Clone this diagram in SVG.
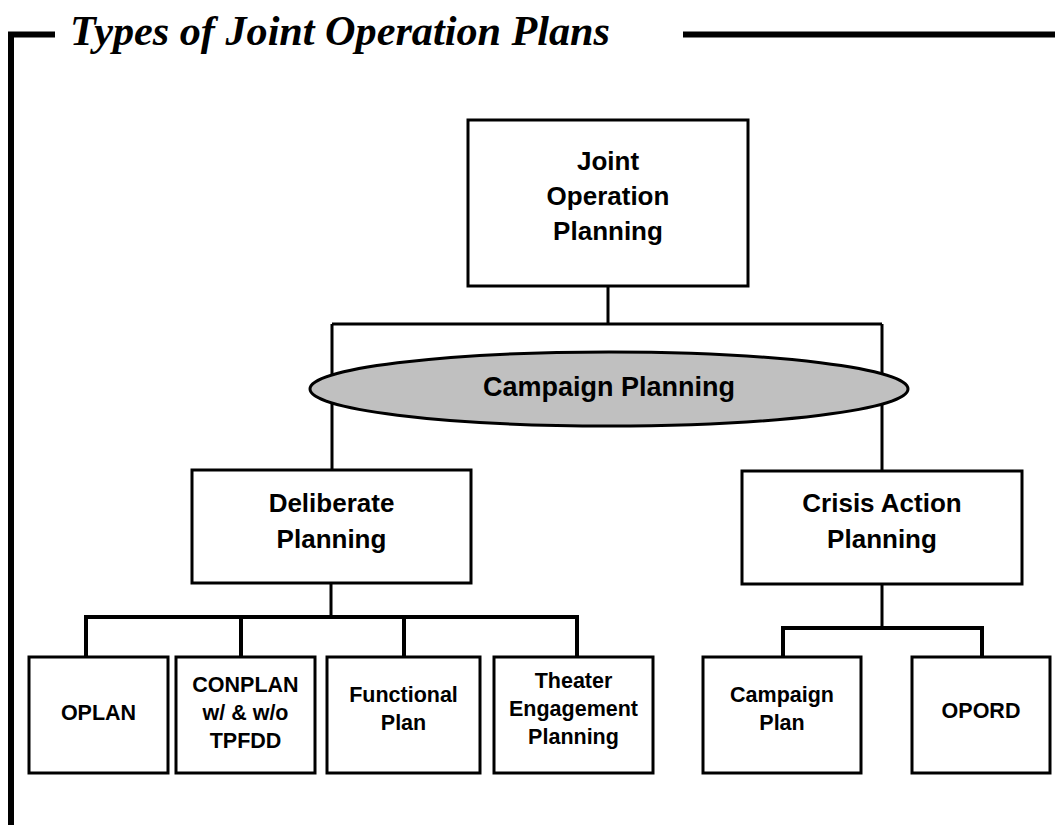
<svg xmlns="http://www.w3.org/2000/svg" width="1055" height="825" viewBox="0 0 1055 825">
<style>
.box{fill:#fff;stroke:#000;stroke-width:3}
.t{font-family:"Liberation Sans",Arial,sans-serif;font-weight:bold;fill:#000;text-anchor:middle}
.big{font-size:26px}
.small{font-size:21.5px}
.c{fill:none;stroke:#000;stroke-width:3}
.c4{fill:none;stroke:#000;stroke-width:4}
</style>
<rect width="1055" height="825" fill="#fff"/>
<g id="frame">
<path d="M11 825 V34.5 H55" fill="none" stroke="#000" stroke-width="6"/>
<path d="M683 34.5 H1055" fill="none" stroke="#000" stroke-width="6"/>
<text x="70" y="45" font-family="'Liberation Serif','Times New Roman',serif" font-weight="bold" font-style="italic" font-size="43" textLength="540" lengthAdjust="spacingAndGlyphs">Types of Joint Operation Plans</text>
</g>
<g id="connectors">
<path class="c" d="M608 286 V324 M332 324 H882 M332 324 V470 M882 324 V471"/>
<path class="c" d="M331 583 V617 M882 584 V628"/>
<path class="c4" d="M86 657 V617 H577 V657 M241 617 V657 M404 617 V657"/>
<path class="c4" d="M783 657 V628 H982 V657"/>
</g>
<g id="jop">
<rect class="box" x="468" y="120" width="280" height="166"/>
<text class="t big" x="608" y="170">Joint</text>
<text class="t big" x="608" y="205">Operation</text>
<text class="t big" x="608" y="240">Planning</text>
</g>
<g id="campaign-planning">
<ellipse cx="609" cy="389" rx="299" ry="37" fill="#c0c0c0" stroke="#000" stroke-width="3"/>
<text class="t" x="609" y="396" font-size="27">Campaign Planning</text>
</g>
<g id="deliberate">
<rect class="box" x="192" y="470" width="279" height="113"/>
<text class="t big" x="331.5" y="512">Deliberate</text>
<text class="t big" x="331.5" y="548">Planning</text>
</g>
<g id="crisis">
<rect class="box" x="742" y="471" width="280" height="113"/>
<text class="t big" x="882" y="512">Crisis Action</text>
<text class="t big" x="882" y="548">Planning</text>
</g>
<g id="oplan">
<rect class="box" x="29" y="657" width="139" height="116"/>
<text class="t small" x="98.5" y="720">OPLAN</text>
</g>
<g id="conplan">
<rect class="box" x="176" y="657" width="139" height="116"/>
<text class="t small" x="245.5" y="692">CONPLAN</text>
<text class="t small" x="245.5" y="720">w/ &amp; w/o</text>
<text class="t small" x="245.5" y="748">TPFDD</text>
</g>
<g id="functional">
<rect class="box" x="327" y="657" width="153" height="116"/>
<text class="t small" x="403.5" y="702">Functional</text>
<text class="t small" x="403.5" y="730">Plan</text>
</g>
<g id="theater">
<rect class="box" x="494" y="657" width="159" height="116"/>
<text class="t small" x="573.5" y="688">Theater</text>
<text class="t small" x="573.5" y="716">Engagement</text>
<text class="t small" x="573.5" y="744">Planning</text>
</g>
<g id="campaign-plan">
<rect class="box" x="703" y="657" width="158" height="116"/>
<text class="t small" x="782" y="702">Campaign</text>
<text class="t small" x="782" y="730">Plan</text>
</g>
<g id="opord">
<rect class="box" x="912" y="657" width="138" height="116"/>
<text class="t small" x="981" y="718">OPORD</text>
</g>
</svg>
